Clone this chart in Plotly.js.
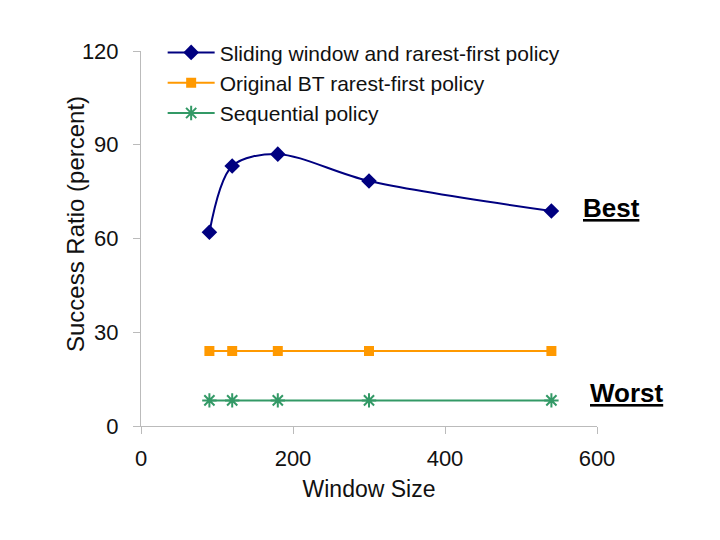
<!DOCTYPE html>
<html><head><meta charset="utf-8">
<script src="https://cdn.plot.ly/plotly-3.0.1.min.js"></script>
<style>body{margin:0;background:#fff}#c{width:720px;height:540px}</style>
</head><body><div id="c"></div>
<script>
const windowSizes = [90, 120, 180, 300, 540];
const slidingWindow = [62, 83.2, 87, 78.4, 68.8];
const originalBT = [24, 24, 24, 24, 24];
const sequential = [8.2, 8.2, 8.2, 8.2, 8.2];
const seriesNames = ["Sliding window and rarest-first policy", "Original BT rarest-first policy", "Sequential policy"];
const yTicks = [0, 30, 60, 90, 120];
const xTicks = [0, 200, 400, 600];

const traces = [
  {x: windowSizes, y: slidingWindow, name: seriesNames[0], mode: 'lines+markers',
   line: {color: '#000080', width: 2, shape: 'spline', smoothing: 0.9},
   marker: {symbol: 'diamond', size: 12, color: '#000080'}},
  {x: windowSizes, y: originalBT, name: seriesNames[1], mode: 'lines+markers',
   line: {color: '#FF9900', width: 2},
   marker: {symbol: 'square', size: 10, color: '#FF9900'}},
  {x: windowSizes, y: sequential, name: seriesNames[2], mode: 'lines+markers',
   line: {color: '#339966', width: 2},
   marker: {symbol: 'asterisk-open', size: 12, line: {color: '#339966', width: 2}, color: '#339966'}}
];

const layout = {
  width: 720, height: 540,
  margin: {l: 141, r: 123, t: 51, b: 114},
  paper_bgcolor: '#fff', plot_bgcolor: '#fff',
  font: {family: 'Liberation Sans, Arial, sans-serif', size: 22, color: '#111'},
  showlegend: true,
  legend: {x: 0.0475, y: 1.05, xanchor: 'left', yanchor: 'top', bgcolor: 'rgba(0,0,0,0)',
           font: {size: 21, color: '#111'}, tracegroupgap: 0, itemwidth: 47},
  xaxis: {range: [0, 600], tickvals: xTicks, ticktext: xTicks.map(String),
          showgrid: false, zeroline: false, showline: true, linecolor: '#bbb', linewidth: 1,
          ticks: 'outside', ticklen: 7, tickcolor: '#bbb', ticklabelstandoff: 6,
          tickfont: {size: 22},
          title: {text: 'Window Size', font: {size: 23}, standoff: 10}},
  yaxis: {range: [0, 120], tickvals: yTicks, ticktext: yTicks.map(String),
          showgrid: false, zeroline: false, showline: true, linecolor: '#bbb', linewidth: 1,
          ticks: 'outside', ticklen: 7, tickcolor: '#bbb', ticklabelstandoff: 10,
          tickfont: {size: 22}},
  annotations: [
    {xref: 'paper', yref: 'paper', x: (75-141)/456, y: (426-224)/375, xanchor: 'center', yanchor: 'middle',
     textangle: -90, text: 'Success Ratio (percent)', showarrow: false, font: {size: 24, color: '#111'}},
    {xref: 'paper', yref: 'paper', x: 0.966, y: (426-208)/375, xanchor: 'left', yanchor: 'middle',
     text: '<b><u>Best</u></b>', showarrow: false, font: {size: 26, color: '#000'}},
    {xref: 'paper', yref: 'paper', x: 0.98, y: (426-393)/375, xanchor: 'left', yanchor: 'middle',
     text: '<b><u>Worst</u></b>', showarrow: false, font: {size: 26, color: '#000'}}
  ]
};
Plotly.newPlot('c', traces, layout, {displayModeBar: false, staticPlot: true});
</script></body></html>
